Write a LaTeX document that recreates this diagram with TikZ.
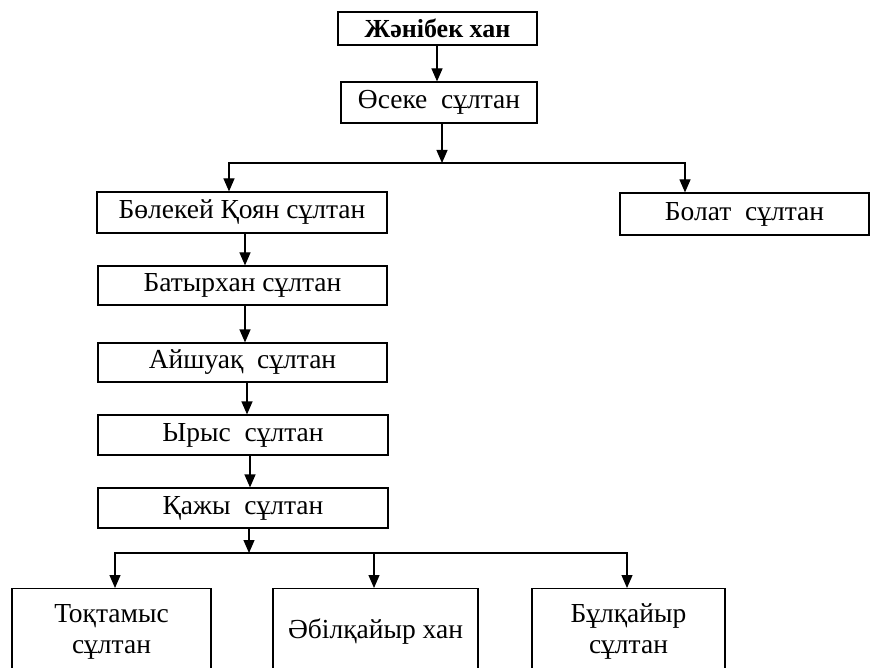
\documentclass[tikz,border=0pt]{standalone}
\usepackage{fontspec}
\setmainfont{Liberation Serif}
\usetikzlibrary{arrows.meta}
\tikzset{
  box/.style={draw, line width=1.2pt, inner sep=0pt, font=\fontsize{27.5}{31}\selectfont},
  arr/.style={line width=1.2pt, -{Triangle[length=13pt,width=11pt]}},
  bar/.style={line width=1.2pt}
}
\begin{document}
\begin{tikzpicture}[x=1pt,y=-1pt]
        \useasboundingbox (0,0) rectangle (872,668);
        \clip (0,0) rectangle (872,668);
        % Nodes (top to bottom)
        \node (zhan) at (437.5,28.5) [box, minimum width=199pt, minimum height=33pt, font=\fontsize{26}{28}\selectfont\bfseries] {Жәнібек хан};
        \node (oseke) at (439,102.5) [box, minimum width=196pt, minimum height=41pt] {Өсеке\ \ сұлтан};
        \node (bolek) at (242,212.5) [box, minimum width=290pt, minimum height=41pt] {Бөлекей Қоян сұлтан};
        \node (bolat) at (744.5,214) [box, minimum width=249pt, minimum height=42pt] {Болат\ \ сұлтан};
        \node (batyr) at (242.5,285.5) [box, minimum width=289pt, minimum height=39pt] {Батырхан сұлтан};
        \node (aish) at (242.5,362.5) [box, minimum width=289pt, minimum height=39pt] {Айшуақ\ \ сұлтан};
        \node (yrys) at (243,435) [box, minimum width=290pt, minimum height=40pt] {Ырыс\ \ сұлтан};
        \node (kazhy) at (243,508) [box, minimum width=290pt, minimum height=40pt] {Қажы\ \ сұлтан};
        \node (tokt) at (111.5,588) [box, anchor=north, minimum width=199pt, minimum height=86pt, align=center] {Тоқтамыс\\сұлтан};
        \node (abil) at (375.5,588) [box, anchor=north, minimum width=205pt, minimum height=86pt] {Әбілқайыр хан};
        \node (bulk) at (628.5,588) [box, anchor=north, minimum width=193pt, minimum height=86pt, align=center] {Бұлқайыр\\сұлтан};
        % Split points
        \coordinate (split1) at (442,163);
        \coordinate (split2) at (249,553);
        % Edges
        \draw[arr] (zhan.south -| 437,0) -- (oseke.north -| 437,0);
        \draw[arr] (oseke.south -| split1) -- (split1);
        \draw[bar] ([xshift=-13pt]bolek.north |- split1) -- ([xshift=-59.5pt]bolat.north |- split1);
        \draw[arr] (split1) -| ([xshift=-13pt]bolek.north);
        \draw[arr] (split1) -| ([xshift=-59.5pt]bolat.north);
        \draw[arr] ([xshift=3pt]bolek.south) -- ([xshift=3pt]bolek.south |- batyr.north);
        \draw[arr] ([xshift=2.5pt]batyr.south) -- ([xshift=2.5pt]batyr.south |- aish.north);
        \draw[arr] ([xshift=4.5pt]aish.south) -- ([xshift=4.5pt]aish.south |- yrys.north);
        \draw[arr] ([xshift=7pt]yrys.south) -- ([xshift=7pt]yrys.south |- kazhy.north);
        \draw[arr] (kazhy.south -| split2) -- (split2);
        \draw[bar] ([xshift=3.5pt]tokt.north |- split2) -- ([xshift=-1.5pt]bulk.north |- split2);
        \draw[arr] (split2) -| ([xshift=3.5pt]tokt.north);
        \draw[arr] (split2) -| ([xshift=-1.5pt]abil.north);
        \draw[arr] (split2) -| ([xshift=-1.5pt]bulk.north);
      \end{tikzpicture}
\end{document}
